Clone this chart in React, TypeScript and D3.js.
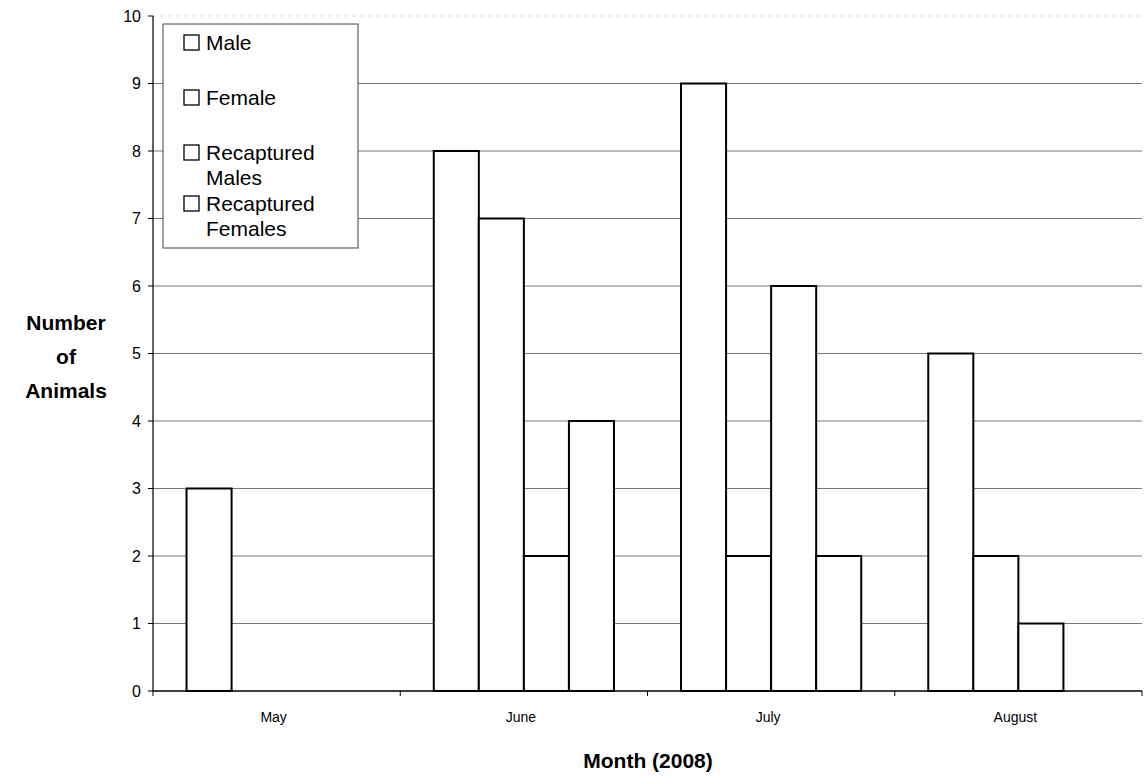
import React, { useEffect } from 'react';
import * as d3 from 'd3';

const months = ['May', 'June', 'July', 'August'];
const seriesNames = ['Male', 'Female', 'Recaptured Males', 'Recaptured Females'];
const legendLines = [['Male'], ['Female'], ['Recaptured', 'Males'], ['Recaptured', 'Females']];
const male = [3, 8, 9, 5];
const female = [0, 7, 2, 2];
const recapturedMales = [0, 2, 6, 1];
const recapturedFemales = [0, 4, 2, 0];
const yTicks = [0, 1, 2, 3, 4, 5, 6, 7, 8, 9, 10];

const seriesValues = [male, female, recapturedMales, recapturedFemales];

export default function App() {
  useEffect(() => {
    document.body.style.margin = '0';
  }, []);

  const width = 1145;
  const height = 777;
  const left = 153;
  const right = 1142;
  const top = 16;
  const bottom = 691;

  const x = d3.scaleBand<string>().domain(months).range([left, right]).padding(0);
  const inner = d3
    .scaleBand<string>()
    .domain(seriesNames)
    .range([0, x.bandwidth()])
    .paddingInner(0)
    .paddingOuter(0.744);
  const y = d3.scaleLinear().domain([0, 10]).range([bottom, top]);

  const font = '"Liberation Sans", Arial, sans-serif';

  // baseline of the first line of each legend entry
  const legendRowY = [50, 105, 160, 211];

  return (
    <svg width={width} height={height} style={{ display: 'block', background: '#fff' }} fontFamily={font}>
      {/* gridlines */}
      {yTicks.slice(1).map(t => (
        <line
          key={'g' + t}
          x1={left}
          x2={right}
          y1={y(t)}
          y2={y(t)}
          stroke={t === 10 ? '#bbb' : '#777'}
          strokeWidth={1}
          strokeDasharray={t === 10 ? '2,6' : undefined}
        />
      ))}

      {/* bars */}
      {months.map((m, i) => (
        <g key={m} transform={`translate(${x(m)},0)`}>
          {seriesNames.map((s, j) => {
            const v = seriesValues[j][i];
            if (!v) return null;
            return (
              <rect
                key={s}
                x={inner(s)}
                y={y(v)}
                width={inner.bandwidth()}
                height={y(0) - y(v)}
                fill="#fff"
                stroke="#000"
                strokeWidth={2}
              />
            );
          })}
        </g>
      ))}

      {/* y axis */}
      <line x1={left} x2={left} y1={top} y2={bottom} stroke="#000" strokeWidth={1.2} />
      {yTicks.map(t => (
        <g key={'t' + t}>
          <line x1={left - 5} x2={left} y1={y(t)} y2={y(t)} stroke="#000" />
          <text x={left - 12} y={y(t)} dy="0.36em" textAnchor="end" fontSize={16}>
            {t}
          </text>
        </g>
      ))}

      {/* x axis */}
      <line x1={left} x2={right} y1={bottom} y2={bottom} stroke="#000" strokeWidth={1.5} />
      {[...months.map(m => x(m) as number), right].map((p, i) => (
        <line key={'xt' + i} x1={p} x2={p} y1={bottom} y2={bottom + 5} stroke="#000" />
      ))}
      {months.map(m => (
        <text
          key={'xl' + m}
          x={(x(m) as number) + x.bandwidth() / 2 - 3}
          y={bottom + 31}
          textAnchor="middle"
          fontSize={14}
        >
          {m}
        </text>
      ))}

      {/* axis titles */}
      <text x={648} y={768} textAnchor="middle" fontSize={21} fontWeight="bold">
        Month (2008)
      </text>
      <text textAnchor="middle" fontSize={21} fontWeight="bold">
        <tspan x={66} y={330}>Number</tspan>
        <tspan x={66} y={364}>of</tspan>
        <tspan x={66} y={398}>Animals</tspan>
      </text>

      {/* legend */}
      <rect x={163} y={24} width={195} height={224} fill="#fff" stroke="#444" strokeWidth={1} />
      {seriesNames.map((s, k) => (
        <g key={'lg' + s}>
          <rect x={184} y={legendRowY[k] - 15} width={15} height={15} fill="#fff" stroke="#000" strokeWidth={1.3} />
          <text fontSize={21} fill="#000">
            {legendLines[k].map((ln, q) => (
              <tspan key={q} x={206} y={legendRowY[k] + q * 25}>
                {ln}
              </tspan>
            ))}
          </text>
        </g>
      ))}
    </svg>
  );
}
